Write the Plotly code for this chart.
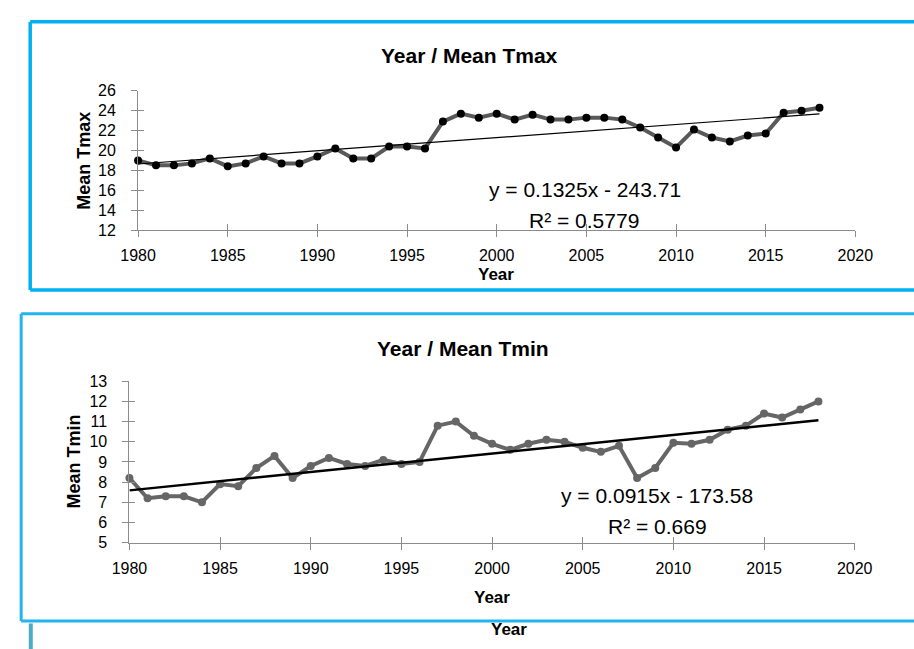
import plotly.graph_objects as go

# Annual series, 1980-2018
years = list(range(1980, 2019))

mean_tmax = [19.0, 18.5, 18.5, 18.7, 19.2, 18.4, 18.7, 19.4, 18.7, 18.7,
             19.4, 20.2, 19.2, 19.2, 20.4, 20.4, 20.2, 22.9, 23.7, 23.3,
             23.7, 23.1, 23.6, 23.1, 23.1, 23.3, 23.3, 23.1, 22.3, 21.3,
             20.3, 22.1, 21.3, 20.9, 21.5, 21.7, 23.8, 24.0, 24.3]

mean_tmin = [8.2, 7.2, 7.3, 7.3, 7.0, 7.9, 7.8, 8.7, 9.3, 8.2,
             8.8, 9.2, 8.9, 8.8, 9.1, 8.9, 9.0, 10.8, 11.0, 10.3,
             9.9, 9.6, 9.9, 10.1, 10.0, 9.7, 9.5, 9.8, 8.2, 8.7,
             9.95, 9.9, 10.1, 10.6, 10.8, 11.4, 11.2, 11.6, 12.0]

# Linear trend coefficients (slope, intercept, R²)
tmax_fit = (0.1325, -243.71, 0.5779)
tmin_fit = (0.0915, -173.58, 0.669)

x_ticks = [1980, 1985, 1990, 1995, 2000, 2005, 2010, 2015, 2020]
tmax_ticks = [12, 14, 16, 18, 20, 22, 24, 26]
tmin_ticks = [5, 6, 7, 8, 9, 10, 11, 12, 13]

W, H = 914, 649
FONT = "Liberation Sans, Arial, sans-serif"
AXIS_GREY = "#8c8c8c"


def px_x(v):
    return v / W


def px_y(v):
    return 1 - v / H


def trend(fit):
    a, b, _ = fit
    xs = [years[0], years[-1]]
    return xs, [a * x + b for x in xs]


fig = go.Figure()

# Top panel: mean maximum temperature
fig.add_trace(go.Scatter(x=years, y=mean_tmax, mode="lines+markers",
                         line=dict(color="#595959", width=4),
                         marker=dict(color="black", size=8),
                         cliponaxis=False, showlegend=False,
                         xaxis="x", yaxis="y"))
tx, ty = trend(tmax_fit)
fig.add_trace(go.Scatter(x=tx, y=ty, mode="lines",
                         line=dict(color="black", width=1.2),
                         showlegend=False, xaxis="x", yaxis="y"))

# Bottom panel: mean minimum temperature
fig.add_trace(go.Scatter(x=years, y=mean_tmin, mode="lines+markers",
                         line=dict(color="#666666", width=4),
                         marker=dict(color="#666666", size=8),
                         cliponaxis=False, showlegend=False,
                         xaxis="x2", yaxis="y2"))
bx, by = trend(tmin_fit)
fig.add_trace(go.Scatter(x=bx, y=by, mode="lines",
                         line=dict(color="black", width=2.5),
                         showlegend=False, xaxis="x2", yaxis="y2"))

# Empty traces so the overlay axes (inner half of the crossing ticks) render
for xa, ya in (("x3", "y3"), ("x4", "y4")):
    fig.add_trace(go.Scatter(x=[None], y=[None], mode="markers",
                             showlegend=False, hoverinfo="skip",
                             xaxis=xa, yaxis=ya))

top_xdom = [px_x(125), px_x(871.7)]
top_ydom = [px_y(228), px_y(85)]
bot_xdom = [px_x(116), px_x(871)]
bot_ydom = [px_y(549), px_y(383.3)]

tick_font = dict(family=FONT, size=16, color="black")


def main_axis(domain, rng, vals, anchor, standoff):
    return dict(domain=domain, range=rng, tickvals=vals, ticks="outside",
                ticklen=6, tickwidth=1, tickcolor=AXIS_GREY,
                showline=True, linecolor=AXIS_GREY, linewidth=1,
                showgrid=False, zeroline=False, tickfont=tick_font,
                anchor=anchor, ticklabelstandoff=standoff, fixedrange=True)


def inner_axis(domain, rng, vals, anchor, overlay):
    return dict(domain=domain, range=rng, tickvals=vals, ticks="inside",
                ticklen=6, tickwidth=1, tickcolor=AXIS_GREY,
                showline=False, showgrid=False, zeroline=False,
                showticklabels=False, anchor=anchor, overlaying=overlay,
                fixedrange=True)


fig.update_layout(
    width=W, height=H, autosize=False,
    margin=dict(l=0, r=0, t=0, b=0),
    paper_bgcolor="white", plot_bgcolor="white",
    xaxis=main_axis(top_xdom, [1980, 2020], x_ticks, "y", 5),
    yaxis=main_axis(top_ydom, [12, 26], tmax_ticks, "x", 12),
    xaxis2=main_axis(bot_xdom, [1980, 2020], x_ticks, "y2", 5),
    yaxis2=main_axis(bot_ydom, [5, 13], tmin_ticks, "x2", 12),
    xaxis3=inner_axis(top_xdom, [1980, 2020], x_ticks, "y3", "x"),
    yaxis3=inner_axis(top_ydom, [12, 26], tmax_ticks, "x3", "y"),
    xaxis4=inner_axis(bot_xdom, [1980, 2020], x_ticks, "y4", "x2"),
    yaxis4=inner_axis(bot_ydom, [5, 13], tmin_ticks, "x4", "y2"),
)


def frame(left, top, bottom, color, width):
    # Open frame: top, left and bottom edges, running off the right side
    right = 1.05
    edges = [
        (px_x(left), px_y(top), right, px_y(top)),
        (px_x(left), px_y(top), px_x(left), px_y(bottom)),
        (px_x(left), px_y(bottom), right, px_y(bottom)),
    ]
    for x0, y0, x1, y1 in edges:
        fig.add_shape(type="line", xref="paper", yref="paper",
                      x0=x0, y0=y0, x1=x1, y1=y1,
                      line=dict(color=color, width=width), layer="below")


frame(12.7, 14, 289.5, "#00B0F0", 3.5)
frame(3.3, 314, 629.5, "#22B4EE", 3)
fig.add_shape(type="line", xref="paper", yref="paper",
              x0=px_x(13.3), x1=px_x(13.3), y0=px_y(632), y1=-0.05,
              line=dict(color="#4BACC6", width=4))


def label(text, x, y, size, bold=False, angle=0):
    fig.add_annotation(text=f"<b>{text}</b>" if bold else text,
                       x=px_x(x), y=px_y(y), xref="paper", yref="paper",
                       xanchor="center", yanchor="middle", showarrow=False,
                       textangle=angle,
                       font=dict(family=FONT, size=size, color="black"))


# Titles
label("Year / Mean Tmax", 470, 49, 21, bold=True)
label("Year / Mean Tmin", 463, 349.5, 21, bold=True)

# Axis titles
label("Year", 498, 273.5, 17, bold=True)
label("Mean Tmax", 69, 156.5, 18, bold=True, angle=-90)
label("Year", 493, 605, 17, bold=True)
label("Mean Tmin", 58, 466, 18, bold=True, angle=-90)
label("Year", 511, 638.5, 17, bold=True)

# Trend equations
a, b, r2 = tmax_fit
label(f"y = {a}x - {abs(b)}", 590, 186, 21)
label(f"R² = {r2}", 589, 218, 21)
a, b, r2 = tmin_fit
label(f"y = {a}x - {abs(b)}", 665, 501, 21)
label(f"R² = {r2}", 666, 532, 21)

fig.write_html("out.html")
